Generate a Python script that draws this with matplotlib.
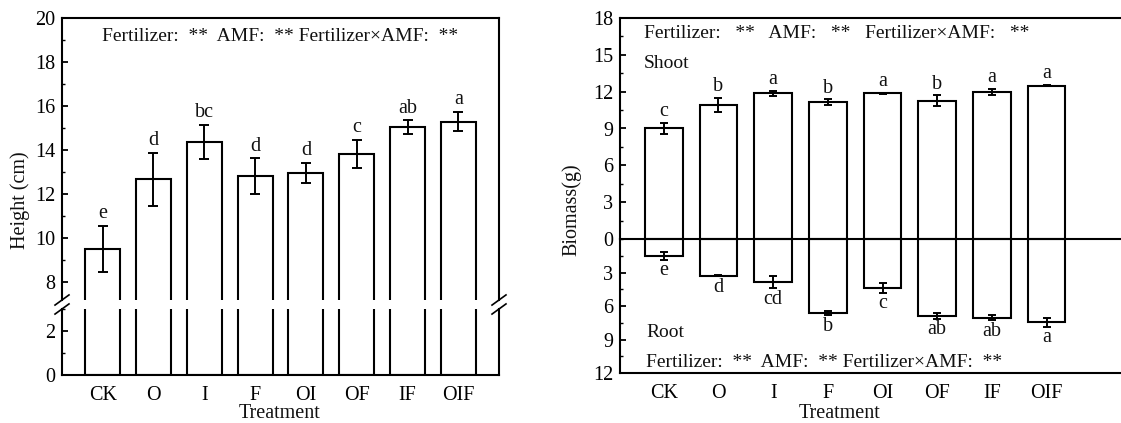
import numpy as np
import matplotlib
matplotlib.use("Agg")
import matplotlib.pyplot as plt
from matplotlib.ticker import MultipleLocator

# data
treatments = ["CK", "O", "I", "F", "OI", "OF", "IF", "OIF"]

height = [9.52, 12.68, 14.38, 12.83, 12.95, 13.83, 15.05, 15.30]
height_err = [1.03, 1.20, 0.77, 0.80, 0.46, 0.62, 0.30, 0.43]
height_sig = ["e", "d", "bc", "d", "d", "c", "ab", "a"]

shoot = [9.02, 10.92, 11.88, 11.14, 11.88, 11.27, 12.00, 12.50]
shoot_err = [0.45, 0.58, 0.20, 0.25, 0.05, 0.46, 0.24, 0.06]
shoot_sig = ["c", "b", "a", "b", "a", "b", "a", "a"]

root = [1.50, 3.30, 3.86, 6.65, 4.40, 6.90, 7.03, 7.47]
root_err = [0.37, 0.05, 0.55, 0.20, 0.42, 0.25, 0.24, 0.37]
root_sig = ["e", "d", "cd", "b", "c", "ab", "ab", "a"]

anova_txt = "Fertilizer:  **  AMF:  ** Fertilizer\u00d7AMF:  **"
anova_txt2 = "Fertilizer:   **   AMF:   **   Fertilizer\u00d7AMF:   **"

plt.rcParams['font.family'] = ['Liberation Serif', 'DejaVu Serif']
plt.rcParams['font.size'] = 14
plt.rcParams['axes.linewidth'] = 1.5
plt.rcParams['text.color'] = '#111111'

W, H = 1121, 423
fig = plt.figure(figsize=(W / 100, H / 100), dpi=100)


def px_axes(x0, y0, x1, y1):
    # pixel box (top-left origin) -> figure axes
    return fig.add_axes([x0 / W, 1 - y1 / H, (x1 - x0) / W, (y1 - y0) / H])


def style_y(ax, major, minor):
    ax.yaxis.set_major_locator(MultipleLocator(major))
    ax.yaxis.set_minor_locator(MultipleLocator(minor))
    ax.tick_params(axis='y', which='major', direction='in', length=4, width=1.3, pad=5, labelsize=14.5)
    ax.tick_params(axis='y', which='minor', direction='in', length=2, width=1.0)
    ax.tick_params(axis='x', length=0, pad=8, labelsize=14.5)


x = np.arange(len(treatments))
bw = 0.69
bar_kw = dict(width=bw, facecolor='white', edgecolor='black', linewidth=1.5, zorder=2)
err_kw = dict(fmt='none', ecolor='black', elinewidth=1.4, capsize=3.5, capthick=1.4, zorder=3)

# ---- left panel: plant height with broken axis ----
ax_hi = px_axes(62, 18, 499, 300)
ax_lo = px_axes(62, 309, 499, 375)

for ax in (ax_hi, ax_lo):
    ax.bar(x, height, **bar_kw)
    ax.set_xlim(-0.8, 7.8)

ax_hi.errorbar(x, height, yerr=height_err, **err_kw)
ax_hi.set_ylim(7.2, 20)
ax_lo.set_ylim(0, 3)
style_y(ax_hi, 2, 1)
style_y(ax_lo, 2, 1)
ax_hi.spines['bottom'].set_visible(False)
ax_lo.spines['top'].set_visible(False)
ax_hi.set_xticks([])
ax_lo.set_xticks(x)
ax_lo.set_xticklabels(treatments)

for i in range(len(x)):
    ax_hi.annotate(height_sig[i], (x[i], height[i] + height_err[i]), xytext=(0, 2),
                   textcoords='offset points', ha='center', va='bottom', fontsize=14.5)

ax_hi.text(0.5, 0.935, anova_txt, transform=ax_hi.transAxes, ha='center', va='center', fontsize=14)

# break marks
for ax, yy, k in ((ax_hi, 0.0, 1.0), (ax_lo, 1.0, 282 / 66)):
    for xx in (0.0, 1.0):
        ax.plot([xx - 0.016, xx + 0.016], [yy - 0.018 * k, yy + 0.018 * k],
                transform=ax.transAxes, color='black', lw=1.2, clip_on=False, zorder=5)

fig.text(20 / W, 1 - 200 / H, "Height (cm)", rotation=90, ha='center', va='center', fontsize=14.5)
fig.text(280 / W, 1 - 413 / H, "Treatment", ha='center', va='center', fontsize=14.5)

# ---- right panel: shoot / root biomass ----
ax_s = px_axes(620, 18, 1121, 239)
ax_r = px_axes(620, 239, 1121, 373)

for ax in (ax_s, ax_r):
    ax.set_xlim(-0.8, 8.36)
    ax.spines['right'].set_visible(False)

ax_s.bar(x, shoot, **bar_kw)
ax_s.errorbar(x, shoot, yerr=shoot_err, **dict(err_kw, capsize=3))
ax_s.set_ylim(0, 18)
style_y(ax_s, 3, 1.5)
ax_s.set_xticks([])
ax_s.spines['bottom'].set_visible(False)

ax_r.bar(x, root, **bar_kw)
ax_r.errorbar(x, root, yerr=root_err, **dict(err_kw, capsize=3))
ax_r.set_ylim(12, 0)
style_y(ax_r, 3, 1.5)
ax_r.set_yticks([3, 6, 9, 12])
ax_r.spines['top'].set_visible(False)
ax_r.set_xticks(x)
ax_r.set_xticklabels(treatments)
ax_r.axhline(0, color='black', lw=1.5, clip_on=False, zorder=6)

for i in range(len(x)):
    ax_s.annotate(shoot_sig[i], (x[i], shoot[i] + shoot_err[i]), xytext=(0, 1),
                  textcoords='offset points', ha='center', va='bottom', fontsize=14.5)
    ax_r.annotate(root_sig[i], (x[i], root[i] + root_err[i]), xytext=(0, -1),
                  textcoords='offset points', ha='center', va='top', fontsize=14.5)

ax_s.text(24 / 501, 0.93, anova_txt2, transform=ax_s.transAxes, ha='left', va='center', fontsize=14)
ax_s.text(24 / 501, 0.795, "Shoot", transform=ax_s.transAxes, ha='left', va='center', fontsize=14)
ax_r.text(26 / 501, 1 - (332 - 239) / 134, "Root", transform=ax_r.transAxes, ha='left', va='center', fontsize=14)
ax_r.text(26 / 501, 1 - (362 - 239) / 134, anova_txt, transform=ax_r.transAxes, ha='left', va='center', fontsize=14)

fig.text(572 / W, 1 - 210 / H, "Biomass(g)", rotation=90, ha='center', va='center', fontsize=14.5)
fig.text(840 / W, 1 - 413 / H, "Treatment", ha='center', va='center', fontsize=14.5)

fig.savefig("out.png", dpi=100)
